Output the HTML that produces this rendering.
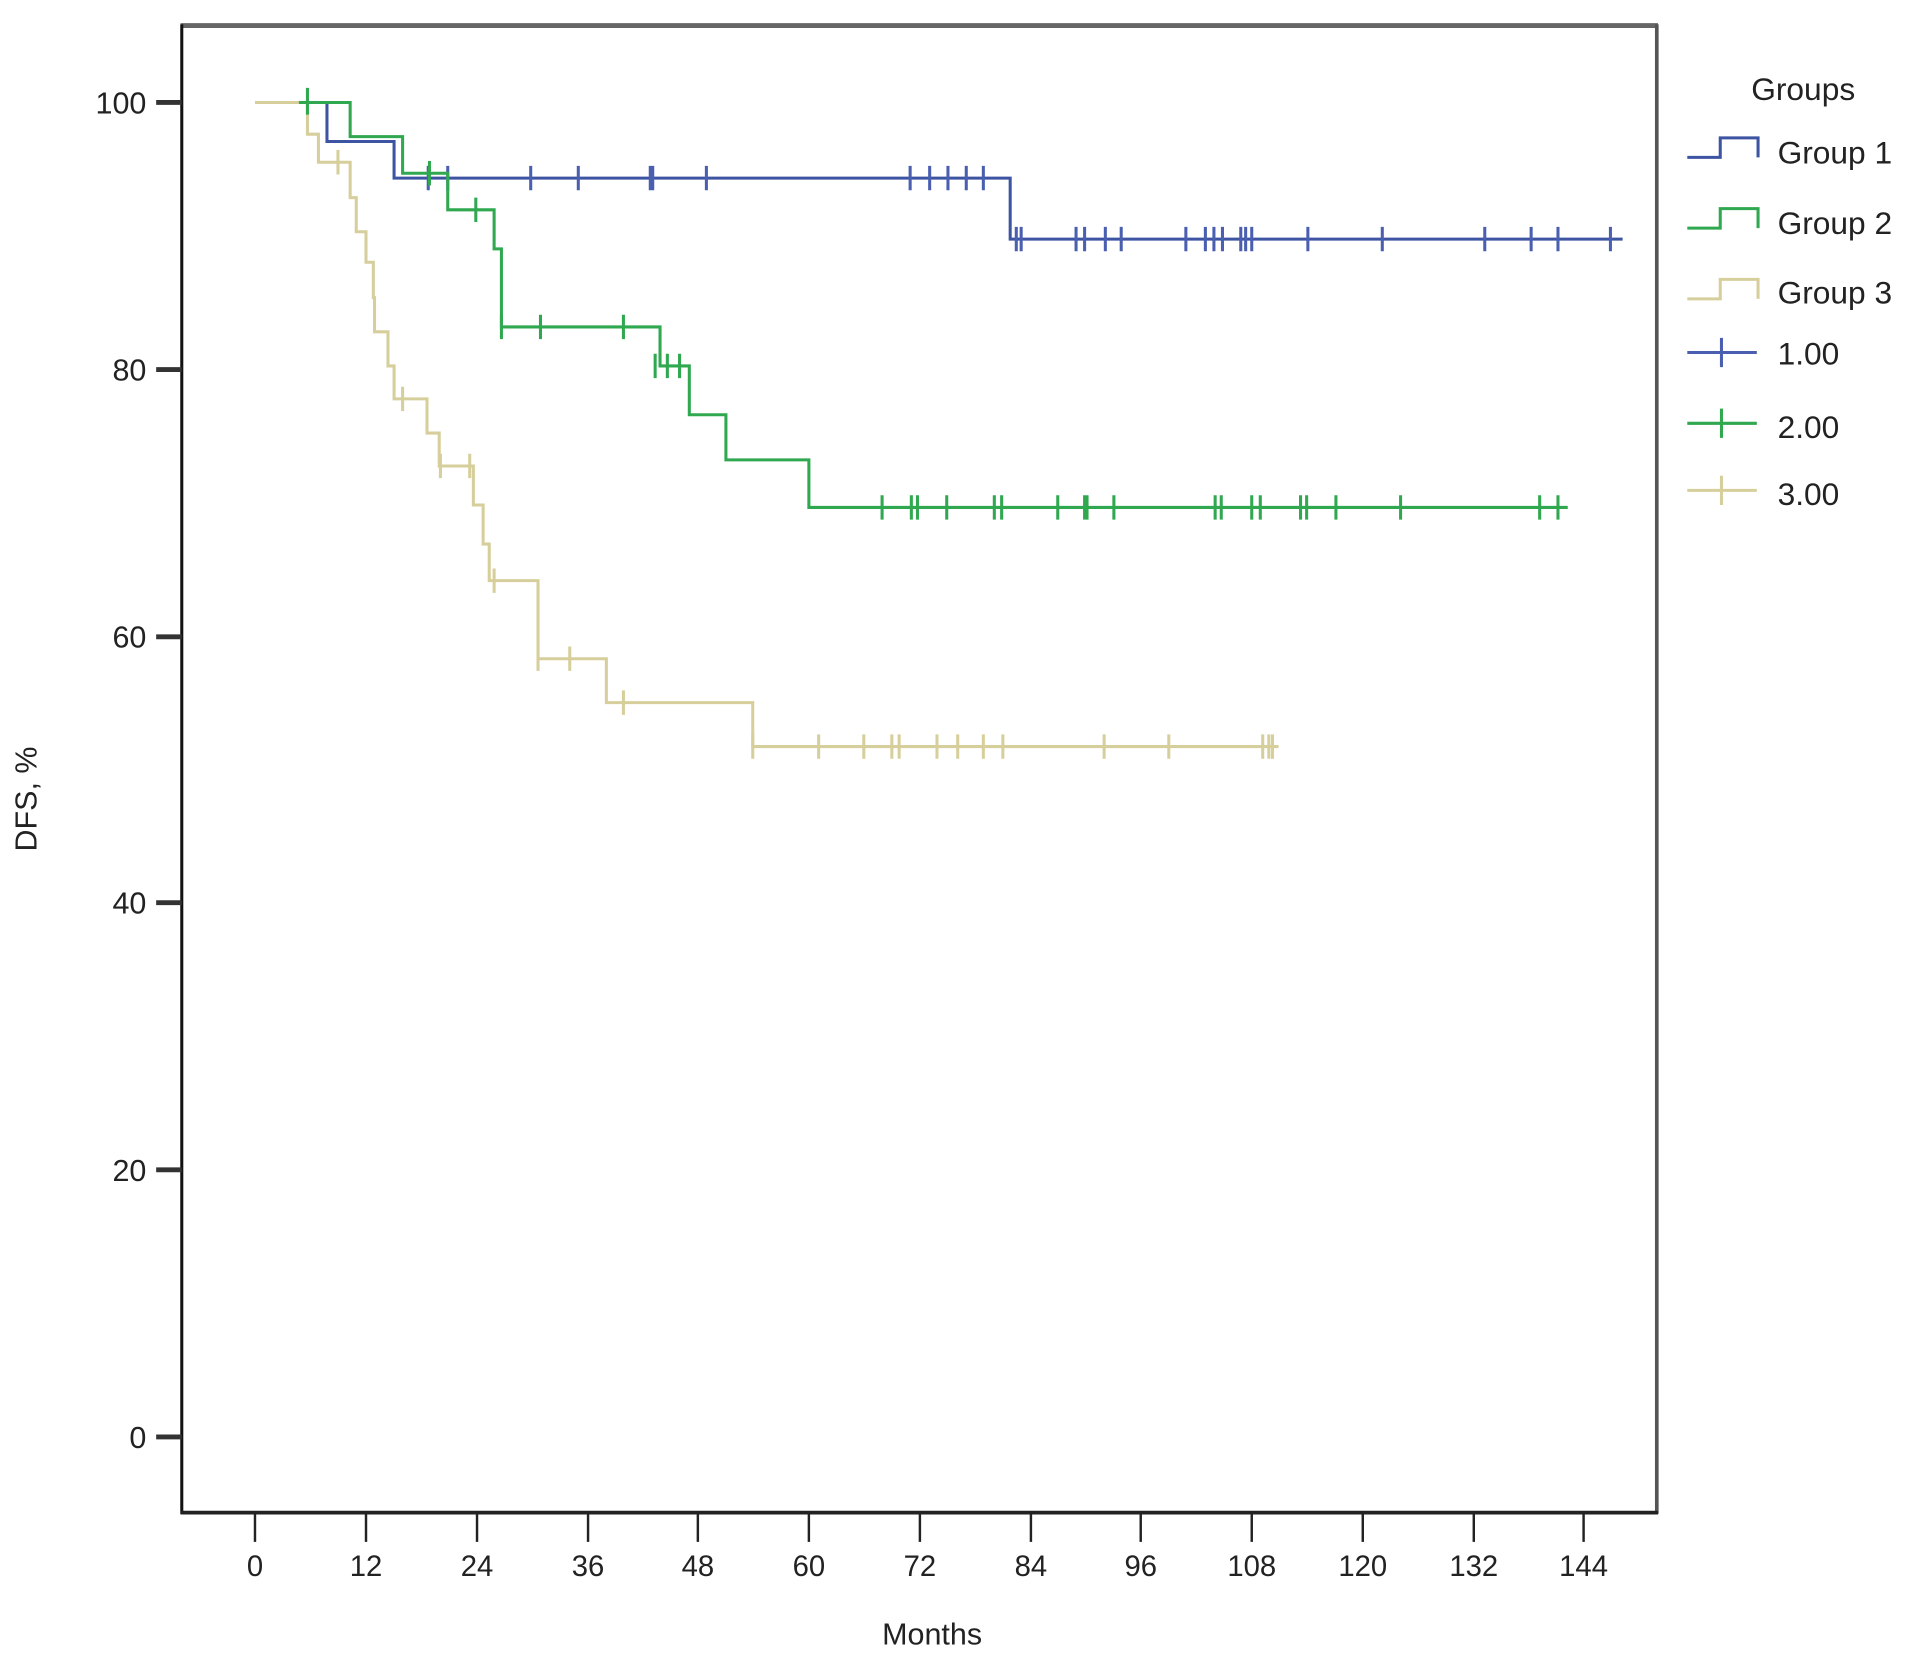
<!DOCTYPE html>
<html><head><meta charset="utf-8"><style>
html,body{margin:0;padding:0;background:#fff;}
svg{display:block;}
text{font-family:"Liberation Sans",sans-serif;fill:#222;}
</style></head><body>
<svg width="1913" height="1659" viewBox="0 0 1568 1360" preserveAspectRatio="none" xmlns="http://www.w3.org/2000/svg">
<rect width="1568" height="1360" fill="#fff"/>
<!-- frame -->
<line x1="148" y1="21" x2="1359" y2="21" stroke="#666" stroke-width="4"/>
<line x1="1358" y1="20" x2="1358" y2="1241" stroke="#555" stroke-width="3"/>
<line x1="149" y1="20" x2="149" y2="1241" stroke="#111" stroke-width="2.5"/>
<line x1="148" y1="1240" x2="1359" y2="1240" stroke="#222" stroke-width="3"/>
<!-- y ticks -->
<g stroke="#333" stroke-width="4">
<line x1="128" y1="84" x2="149" y2="84"/><line x1="128" y1="303" x2="149" y2="303"/>
<line x1="128" y1="522" x2="149" y2="522"/><line x1="128" y1="740" x2="149" y2="740"/>
<line x1="128" y1="959" x2="149" y2="959"/><line x1="128" y1="1178" x2="149" y2="1178"/>
</g>
<g font-size="25" text-anchor="end">
<text x="120" y="93">100</text><text x="120" y="312">80</text><text x="120" y="531">60</text>
<text x="120" y="749">40</text><text x="120" y="968">20</text><text x="120" y="1187">0</text>
</g>
<!-- x ticks -->
<g stroke="#222" stroke-width="2">
<line x1="209" y1="1240" x2="209" y2="1264"/><line x1="300" y1="1240" x2="300" y2="1264"/>
<line x1="391" y1="1240" x2="391" y2="1264"/><line x1="482" y1="1240" x2="482" y2="1264"/>
<line x1="572" y1="1240" x2="572" y2="1264"/><line x1="663" y1="1240" x2="663" y2="1264"/>
<line x1="754" y1="1240" x2="754" y2="1264"/><line x1="845" y1="1240" x2="845" y2="1264"/>
<line x1="935" y1="1240" x2="935" y2="1264"/><line x1="1026" y1="1240" x2="1026" y2="1264"/>
<line x1="1117" y1="1240" x2="1117" y2="1264"/><line x1="1208" y1="1240" x2="1208" y2="1264"/>
<line x1="1298" y1="1240" x2="1298" y2="1264"/>
</g>
<g font-size="24" text-anchor="middle">
<text x="209" y="1292">0</text><text x="300" y="1292">12</text><text x="391" y="1292">24</text>
<text x="482" y="1292">36</text><text x="572" y="1292">48</text><text x="663" y="1292">60</text>
<text x="754" y="1292">72</text><text x="845" y="1292">84</text><text x="935" y="1292">96</text>
<text x="1026" y="1292">108</text><text x="1117" y="1292">120</text><text x="1208" y="1292">132</text>
<text x="1298" y="1292">144</text>
</g>
<text x="764" y="1348" font-size="25" text-anchor="middle">Months</text>
<text transform="translate(30,655) rotate(-90)" font-size="25" text-anchor="middle">DFS, %</text>

<!-- Group 3 tan -->
<polyline fill="none" stroke="#d6cf9c" stroke-width="2.5" points="209,84 252,84 252,110 261,110 261,133 287,133 287,162 292,162 292,190 300,190 300,215 306,215 306,244 307,244 307,272 318,272 318,300 323,300 323,327 350,327 350,355 360,355 360,382 388,382 388,414 396,414 396,446 401,446 401,476 441,476 441,540 497,540 497,576 617,576 617,612 1048,612"/>
<g stroke="#d6cf9c" stroke-width="2.5">
<path d="M277,123v20M330,317v20M361,372v20M385,372v20M405,466v20M441,530v20M467,530v20M511,566v20M617,602v20M671,602v20M708,602v20M731,602v20M737,602v20M768,602v20M785,602v20M806,602v20M822,602v20M905,602v20M958,602v20M1035,602v20M1040,602v20M1043,602v20"/>
</g>
<!-- Group 1 blue -->
<polyline fill="none" stroke="#3d54a3" stroke-width="2.5" points="252,84 268,84 268,116 323,116 323,146 828,146 828,196 1330,196"/>
<g stroke="#4a5fb0" stroke-width="2.5">
<path d="M351,136v20M367,136v20M435,136v20M474,136v20M533,136v20M535,136v20M579,136v20M746,136v20M762,136v20M777,136v20M792,136v20M806,136v20M833,186v20M837,186v20M882,186v20M889,186v20M906,186v20M919,186v20M972,186v20M988,186v20M995,186v20M1002,186v20M1017,186v20M1021,186v20M1026,186v20M1072,186v20M1133,186v20M1217,186v20M1255,186v20M1277,186v20M1320,186v20"/>
</g>
<!-- Group 2 green -->
<polyline fill="none" stroke="#2fa84f" stroke-width="2.5" points="245,84 287,84 287,112 330,112 330,142 367,142 367,172 405,172 405,204 411,204 411,268 541,268 541,300 565,300 565,340 595,340 595,377 663,377 663,416 1285,416"/>
<g stroke="#2fa84f" stroke-width="2.5">
<path d="M252,72v22M352,132v20M390,162v20M411,258v20M443,258v20M511,258v20M537,290v20M547,290v20M557,290v20M723,406v20M747,406v20M752,406v20M776,406v20M815,406v20M821,406v20M867,406v20M889,406v20M891,406v20M913,406v20M996,406v20M1001,406v20M1026,406v20M1033,406v20M1066,406v20M1071,406v20M1095,406v20M1148,406v20M1262,406v20M1277,406v20"/>
</g>
<!-- legend -->
<text x="1478" y="82" font-size="26" text-anchor="middle">Groups</text>
<g font-size="26">
<text x="1457" y="134">Group 1</text><text x="1457" y="192">Group 2</text><text x="1457" y="249">Group 3</text>
<text x="1457" y="299">1.00</text><text x="1457" y="359">2.00</text><text x="1457" y="414">3.00</text>
</g>
<polyline fill="none" stroke="#3d54a3" stroke-width="2.5" points="1383,129 1410,129 1410,113 1441,113 1441,129"/>
<polyline fill="none" stroke="#2fa84f" stroke-width="2.5" points="1383,187 1410,187 1410,171 1441,171 1441,187"/>
<polyline fill="none" stroke="#d6cf9c" stroke-width="2.5" points="1383,245 1410,245 1410,229 1441,229 1441,245"/>
<path d="M1383,289h57M1411,277v24" stroke="#4a5fb0" stroke-width="2.5"/>
<path d="M1383,347h57M1411,335v24" stroke="#2fa84f" stroke-width="2.5"/>
<path d="M1383,402h57M1411,390v24" stroke="#d6cf9c" stroke-width="2.5"/>
</svg>
</body></html>
